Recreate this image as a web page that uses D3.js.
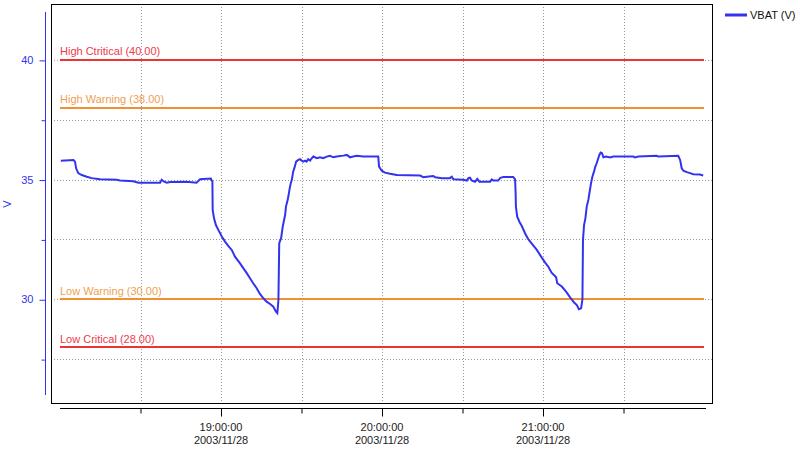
<!DOCTYPE html>
<html>
<head>
<meta charset="utf-8">
<script src="https://cdn.jsdelivr.net/npm/d3@7"></script>
<style>
  body { margin: 0; background: #fff; }
  svg { display: block; font-family: Tahoma, "Liberation Sans", Arial, sans-serif; }
</style>
</head>
<body>
<div id="chart"></div>
<script>
// minutes after 2003/11/28 18:00:00
var minutes = [0.3, 5.0, 5.6, 6.0, 6.8, 8.1, 10.0, 11.8, 14.9, 21.1, 22.4, 27.3, 29.2, 37.3, 37.9, 38.8,
  39.8, 41.0, 47.2, 50.9, 52.2, 56.2, 56.8, 56.9, 57.4, 58.1, 59.0, 60.3, 61.5, 62.7, 64.0, 65.2,
  67.1, 68.3, 69.6, 70.8, 72.0, 73.3, 74.5, 75.8, 77.0, 78.3, 79.5, 80.5, 81.0, 81.4, 81.7, 82.4,
  83.0, 83.5, 83.9, 84.2, 84.7, 85.1, 85.5, 86.0, 86.4, 86.9, 87.5, 88.0, 88.8, 89.4, 90.1, 90.7,
  91.3, 91.9, 92.5, 93.2, 93.8, 94.4, 95.7, 96.9, 98.1, 99.4, 100.6, 101.9, 103.1, 105.6, 106.9, 108.1,
  109.3, 110.6, 113.0, 118.6, 118.9, 119.9, 121.1, 123.0, 125.5, 134.2, 135.4, 136.7, 139.1, 139.8, 142.3, 145.3,
  146.0, 146.6, 150.3, 151.6, 152.2, 152.8, 153.4, 154.7, 155.5, 156.3, 160.3, 160.9, 161.5, 163.3, 164.0, 165.2,
  168.9, 169.6, 169.8, 169.9, 170.4, 171.2, 172.1, 173.3, 174.5, 176.2, 177.7, 179.3, 180.8, 182.0, 183.2, 184.9,
  185.3, 187.0, 188.6, 190.1, 191.6, 192.6, 193.4, 194.2, 194.7, 194.9, 195.3, 195.8, 196.3, 196.9, 197.4, 197.9,
  198.4, 199.0, 199.5, 200.0, 200.6, 201.0, 201.5, 202.0, 202.5, 203.5, 205.0, 206.2, 213.7, 214.3, 215.5, 222.4,
  223.0, 230.4, 231.1, 231.7, 232.3, 233.6, 234.8, 236.0, 238.5, 239.7];

var vbat = [35.79, 35.82, 35.75, 35.47, 35.27, 35.19, 35.12, 35.06, 35.01, 34.99, 34.96, 34.93, 34.87, 34.87, 34.99, 34.91,
  34.87, 34.90, 34.91, 34.87, 35.01, 35.04, 34.91, 33.73, 33.38, 33.10, 32.90, 32.62, 32.41, 32.23, 32.06, 31.78,
  31.50, 31.30, 31.09, 30.88, 30.67, 30.46, 30.22, 30.04, 29.90, 29.80, 29.69, 29.48, 29.42, 29.97, 32.34, 32.55,
  33.03, 33.31, 33.52, 33.87, 34.08, 34.29, 34.57, 34.85, 34.99, 35.33, 35.54, 35.75, 35.82, 35.85, 35.79, 35.75,
  35.79, 35.75, 35.85, 35.79, 35.89, 35.96, 35.89, 35.93, 35.89, 35.96, 35.99, 35.93, 35.96, 36.00, 36.03, 35.93,
  35.96, 35.99, 35.96, 35.96, 35.54, 35.37, 35.29, 35.24, 35.19, 35.17, 35.10, 35.12, 35.15, 35.10, 35.06, 35.06,
  35.12, 35.01, 34.99, 34.96, 35.06, 35.08, 34.96, 34.91, 35.03, 34.91, 34.91, 35.01, 34.96, 34.96, 35.06, 35.11,
  35.11, 35.01, 34.43, 33.87, 33.45, 33.24, 33.06, 32.76, 32.51, 32.27, 32.06, 31.78, 31.53, 31.36, 31.11, 30.92,
  30.67, 30.53, 30.32, 30.08, 29.86, 29.76, 29.58, 29.62, 30.00, 32.48, 33.10, 33.38, 33.87, 34.15, 34.50, 34.85,
  35.12, 35.33, 35.54, 35.68, 35.89, 36.03, 36.13, 36.10, 35.93, 35.96, 35.92, 35.96, 35.96, 35.92, 35.96, 35.99,
  35.96, 35.99, 35.82, 35.47, 35.37, 35.31, 35.27, 35.22, 35.21, 35.17];

var limitNames = ['High Ctritical', 'High Warning', 'Low Warning', 'Low Critical'];
var limitValues = [40, 38, 30, 28];
var limitColors = ['#ee3333', '#f09030', '#f09030', '#ee3333'];
var limitTextColors = ['#ee3a4a', '#f0a050', '#f0a050', '#ee3a4a'];

var yTickValues = [27.5, 30, 32.5, 35, 37.5, 40];
var yTickLabels = ['', '30', '', '35', '', '40'];

var seriesName = 'VBAT (V)';
var seriesColor = '#3333ee';

var svgWidth = 800;
var svgHeight = 450;

var svg = d3.select('#chart')
  .append('svg')
  .attr('width', svgWidth)
  .attr('height', svgHeight);

var start = new Date(2003, 10, 28, 18, 0, 0);
var end = new Date(2003, 10, 28, 22, 0, 0);
var data = minutes.map(function(m, i) {
  return { t: new Date(start.getTime() + m * 60000), v: vbat[i] };
});

// scales
var x = d3.scaleTime().domain([start, end]).range([60, 704]);
var y = d3.scaleLinear().domain([26, 42]).range([395, 12]);

var frame = { left: 51, top: 4, right: 712, bottom: 403 };

// half-hour ticks between the ends
var xTicks = d3.timeMinute.every(30).range(d3.timeMinute.offset(start, 1), end);

// gridlines
svg.append('g')
  .selectAll('line')
  .data(xTicks)
  .enter()
  .append('line')
  .attr('x1', d => Math.round(x(d)) + 0.5)
  .attr('x2', d => Math.round(x(d)) + 0.5)
  .attr('y1', frame.top)
  .attr('y2', frame.bottom)
  .attr('stroke', '#999')
  .attr('stroke-dasharray', '1,2');

svg.append('g')
  .selectAll('line')
  .data(yTickValues)
  .enter()
  .append('line')
  .attr('x1', frame.left)
  .attr('x2', frame.right)
  .attr('y1', d => Math.round(y(d)) + 0.5)
  .attr('y2', d => Math.round(y(d)) + 0.5)
  .attr('stroke', '#999')
  .attr('stroke-dasharray', '1,2');

// limit lines
var limits = svg.append('g');
limitValues.forEach(function(v, i) {
  limits.append('line')
    .attr('x1', x(start))
    .attr('x2', x(end))
    .attr('y1', Math.round(y(v)))
    .attr('y2', Math.round(y(v)))
    .attr('stroke', limitColors[i])
    .attr('stroke-width', 2);
  limits.append('text')
    .attr('x', x(start))
    .attr('y', y(v) - 4.5)
    .attr('font-size', '11px')
    .attr('fill', limitTextColors[i])
    .text(limitNames[i] + ' (' + v.toFixed(2) + ')');
});

// series
svg.append('path')
  .datum(data)
  .attr('d', d3.line().x(d => x(d.t)).y(d => y(d.v)))
  .attr('fill', 'none')
  .attr('stroke', seriesColor)
  .attr('stroke-width', 2);

// frame
svg.append('rect')
  .attr('x', frame.left + 0.5)
  .attr('y', frame.top + 0.5)
  .attr('width', frame.right - frame.left)
  .attr('height', frame.bottom - frame.top)
  .attr('fill', 'none')
  .attr('stroke', '#000');

// y axis
var yAxis = d3.axisLeft(y)
  .tickValues(yTickValues)
  .tickSize(0)
  .tickFormat((d, i) => yTickLabels[i]);

var yG = svg.append('g')
  .attr('transform', 'translate(45.5,0)')
  .call(yAxis);
yG.select('.domain')
  .attr('stroke', seriesColor)
  .attr('d', 'M0,' + y(42) + 'V' + y(26));
yG.selectAll('.tick line')
  .attr('stroke', seriesColor)
  .attr('x2', (d, i) => yTickLabels[i] ? -6 : -4)
  .attr('transform', 'translate(0,0.5)');
yG.selectAll('.tick text')
  .attr('x', -12)
  .attr('fill', seriesColor)
  .attr('font-size', '11px')
  .attr('font-family', null);

svg.append('text')
  .attr('transform', 'translate(11,204) rotate(-90)')
  .attr('text-anchor', 'middle')
  .attr('font-size', '11px')
  .attr('fill', seriesColor)
  .text('V');

// x axis
var xAxis = d3.axisBottom(x)
  .tickValues(xTicks)
  .tickSize(0)
  .tickFormat('');

var xG = svg.append('g')
  .attr('transform', 'translate(0,408.5)')
  .call(xAxis);
xG.select('.domain')
  .attr('stroke', '#000')
  .attr('d', 'M60,0H706');
xG.selectAll('.tick line')
  .attr('stroke', '#000')
  .attr('y2', d => d.getMinutes() === 0 ? 8 : 5);

var fmtTime = d3.timeFormat('%H:%M:%S');
var fmtDate = d3.timeFormat('%Y/%m/%d');
xTicks.filter(d => d.getMinutes() === 0).forEach(function(d) {
  var t = svg.append('text')
    .attr('text-anchor', 'middle')
    .attr('font-size', '11px')
    .attr('fill', '#222');
  t.append('tspan').attr('x', x(d)).attr('y', 431).text(fmtTime(d));
  t.append('tspan').attr('x', x(d)).attr('y', 444).text(fmtDate(d));
});

// legend
svg.append('line')
  .attr('x1', 725)
  .attr('x2', 747)
  .attr('y1', 15)
  .attr('y2', 15)
  .attr('stroke', seriesColor)
  .attr('stroke-width', 3);
svg.append('text')
  .attr('x', 750)
  .attr('y', 19)
  .attr('font-size', '11px')
  .attr('fill', '#111')
  .text(seriesName);
</script>
</body>
</html>
